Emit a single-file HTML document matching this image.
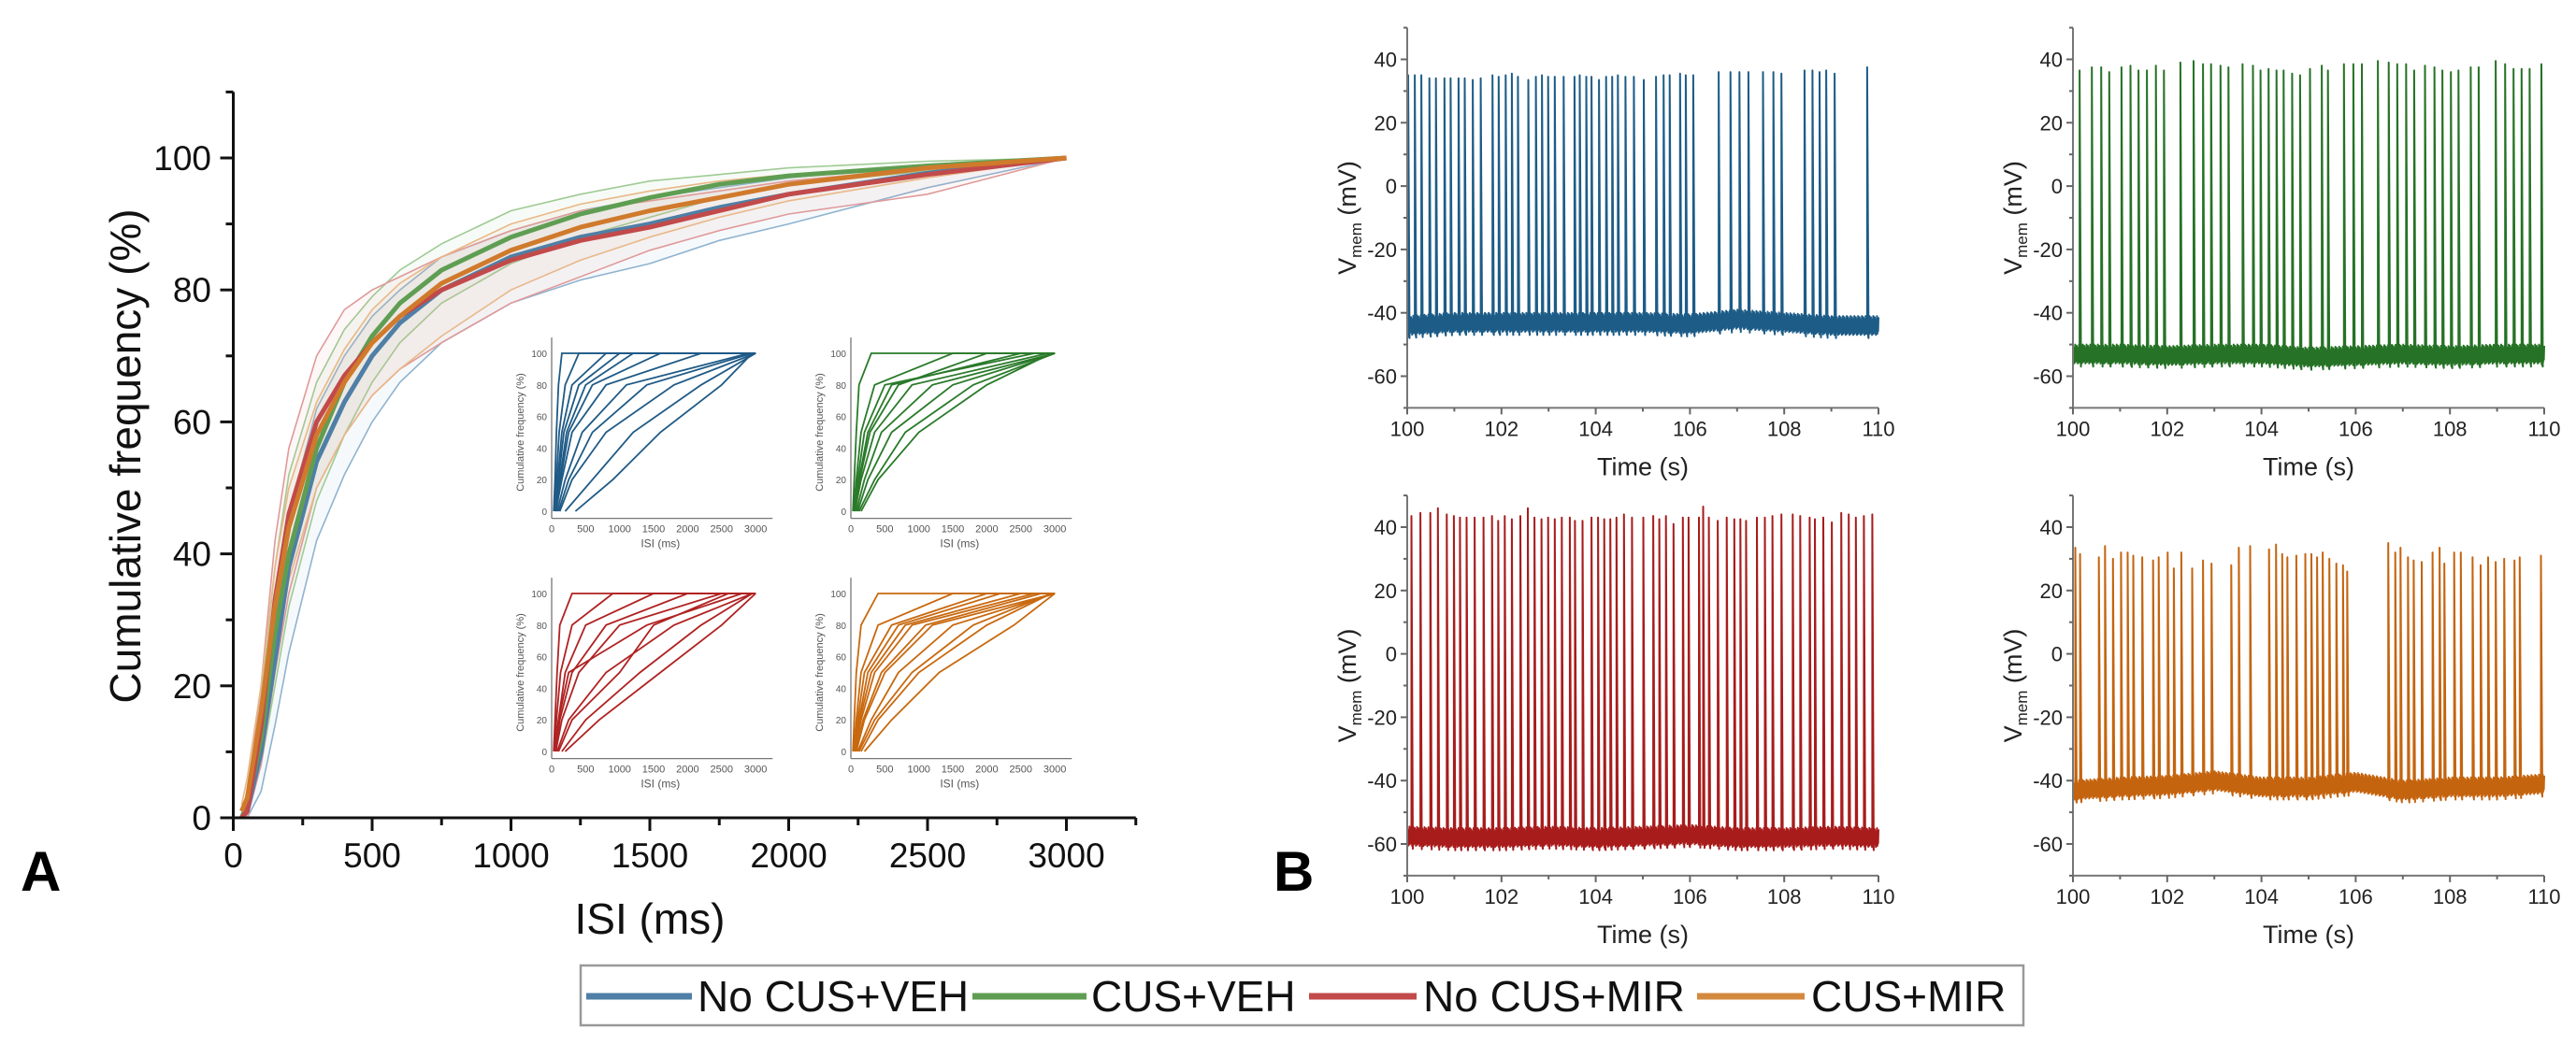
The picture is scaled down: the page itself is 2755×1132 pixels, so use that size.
<!DOCTYPE html>
<html><head><meta charset="utf-8">
<style>
html,body{margin:0;padding:0;background:#fff;}
svg{display:block;font-family:"Liberation Sans",Arial,sans-serif;}
</style></head>
<body>
<svg id="fig" width="2755" height="1132" viewBox="0 0 2755 1132" xmlns="http://www.w3.org/2000/svg">
  <rect x="0" y="0" width="2755" height="1132" fill="#fff"/>
  <text x="22" y="953" font-size="60" font-weight="bold" fill="#000">A</text>
  <text x="1362" y="953" font-size="60" font-weight="bold" fill="#000">B</text>
  <text x="695" y="999" font-size="46" text-anchor="middle" fill="#111">ISI (ms)</text>
  <text transform="translate(150,488) rotate(-90)" font-size="46" text-anchor="middle" fill="#111">Cumulative frequency (%)</text>
  <g>
    <rect x="621" y="1033" width="1543" height="64" fill="#fff" stroke="#999" stroke-width="2.5"/>
    <line x1="627" y1="1066" x2="740" y2="1066" stroke="#4f7fa6" stroke-width="7"/>
    <text x="746" y="1082" font-size="46" fill="#111">No CUS+VEH</text>
    <line x1="1040" y1="1066" x2="1162" y2="1066" stroke="#5f9e52" stroke-width="7"/>
    <text x="1167" y="1082" font-size="46" fill="#111">CUS+VEH</text>
    <line x1="1400" y1="1066" x2="1515" y2="1066" stroke="#c24a4a" stroke-width="7"/>
    <text x="1522" y="1082" font-size="46" fill="#111">No CUS+MIR</text>
    <line x1="1815" y1="1066" x2="1930" y2="1066" stroke="#d48a3e" stroke-width="7"/>
    <text x="1937" y="1082" font-size="46" fill="#111">CUS+MIR</text>
  </g>
</svg>
<script>
// ---------- Main cumulative chart data ----------
const isiGrid = [30,50,100,150,200,300,400,500,600,750,1000,1250,1500,1750,2000,2500,3000];
const blueMean   = [0,1,10,24,38,54,63,70,75,80,85,88,90,92.5,94.5,97.7,100];
const greenMean  = [0,2,12,28,40,56,66,73,78,83,88,91.5,94,96,97.3,98.8,100];
const redMean    = [0,1,14,33,46,60,67,72,76,80,84.5,87.5,89.5,92,94.5,97.5,100];
const orangeMean = [1,3,16,32,44,58,66,72,76,81,86,89.5,92,94,96,98.5,100];
const blueUp   = [1,3,16,33,46,62,70,76,80,85,89,92,94,95.5,97,99,100];
const blueLo   = [0,0,4,14,25,42,52,60,66,72,78,81.5,84,87.5,90,95.5,100];
const greenUp  = [1,4,18,38,52,66,74,79,83,87,92,94.5,96.5,97.5,98.5,99.5,100];
const greenLo  = [0,1,8,20,32,48,58,66,72,78,84,88,91,94,96,98,100];
const redUp    = [1,3,20,42,56,70,77,80,82,85,89,92,93.5,95,96.5,98.5,100];
const redLo    = [0,0,8,22,34,50,58,64,68,72,78,82,86,89,91.5,94.5,100];
const orangeUp = [2,6,20,38,50,63,71,77,81,85,90,93,95,96.5,97.5,99,100];
const orangeLo = [0,1,10,24,36,50,58,64,68,73,80,84.5,88,91,93.5,97,100];
const mainXTicks = [0,500,1000,1500,2000,2500,3000];
const mainYTicks = [0,20,40,60,80,100];

// ---------- Inset data: ISI (ms) at cumulative percentiles ----------
const insetPct = [0,20,50,80,100];
const insetBlue = [[30,50,70,100,150],[40,70,110,200,400],[50,100,180,400,1000],[60,130,250,600,1600],[60,150,300,800,2200],[80,200,450,1100,2900],[100,250,600,1400,2950],[120,300,800,1800,3000],[200,600,1200,2200,3000],[350,900,1600,2500,2950],[60,120,220,500,1200],[50,90,150,300,800]];
const insetGreen = [[30,50,80,120,300],[40,80,150,350,1500],[50,120,250,600,2500],[60,150,350,900,2900],[80,200,450,1200,3000],[100,250,600,1500,3000],[120,350,800,1800,3000],[60,130,280,700,2000],[40,100,200,500,2700],[150,400,1000,2000,2950]];
const insetRed = [[30,50,80,120,300],[40,70,130,300,900],[50,100,200,500,1500],[60,150,400,1000,2500],[80,250,800,1800,2950],[100,300,1000,1500,2600],[150,500,1300,2200,2950],[200,700,1600,2500,3000],[60,120,300,800,2000],[50,100,250,1400,2800]];
const insetOrange = [[30,50,80,150,400],[40,80,150,400,1500],[50,120,250,700,2200],[60,150,350,900,2700],[80,200,500,1200,3000],[100,300,700,1500,3000],[150,400,1000,2000,2950],[200,600,1300,2400,3000],[60,130,300,800,2500],[40,100,200,600,2000],[120,350,900,1800,2950],[70,180,450,1100,2800]];
const insetXTicks = [0,500,1000,1500,2000,2500,3000];
const insetYTicks = [0,20,40,60,80,100];

// ---------- Panel B data (spike times in s, peaks in mV, baseline per second) ----------
const spikesTL = [100.02,100.16,100.30,100.47,100.61,100.79,100.92,101.09,101.22,101.39,101.56,101.81,101.94,102.09,102.22,102.35,102.57,102.73,102.86,102.99,103.13,103.32,103.55,103.66,103.80,103.91,104.07,104.22,104.35,104.47,104.63,104.81,105.02,105.28,105.44,105.57,105.79,105.91,106.07,106.61,106.86,107.05,107.24,107.55,107.77,107.94,108.43,108.60,108.75,108.89,109.07,109.76];
const peaksTL = [35,35,35,34,34,34,34,34,34,33.5,34,35,34.5,35,35.5,34.5,33.5,34.5,35,34.5,34.5,34.5,34.5,35,34.5,34.5,33.5,34.5,34.5,35,34.5,34.5,33.5,34.5,35,35,35.5,35,35,36,36,36,36,36,36,35.5,36.5,36.5,36,36.5,35.5,37.5];
const baseTL = [-44,-43,-43,-43,-43,-43,-43.5,-42,-43,-44,-44];
const spikesTR = [100.14,100.40,100.60,100.77,101.03,101.22,101.39,101.57,101.76,101.93,102.28,102.56,102.76,102.93,103.13,103.30,103.60,103.82,103.98,104.15,104.32,104.47,104.65,104.82,105.03,105.28,105.41,105.75,105.95,106.13,106.47,106.70,106.88,107.07,107.24,107.47,107.67,107.84,108.02,108.18,108.44,108.61,108.97,109.17,109.35,109.52,109.69,109.94];
const peaksTR = [36.5,37.5,37.5,36,37.5,38,36.5,36.5,38,36.5,39,39.5,38.5,38.5,38,37.5,38.5,38,36.5,37,36.5,36.5,35.5,35,37,38,36.5,38.5,38.5,38.5,39.5,39,38.5,38.5,36.5,38,37.5,36.5,36,36.5,37.5,37.5,39.5,38.5,37,37,37,38.5];
const baseTR = [-53,-53,-53.5,-53,-53,-54,-53.5,-53,-53.5,-53,-53];
const spikesBL = [100.09,100.28,100.49,100.65,100.84,100.99,101.12,101.26,101.43,101.62,101.80,101.93,102.07,102.22,102.40,102.56,102.70,102.85,102.99,103.13,103.28,103.45,103.56,103.72,103.91,104.05,104.18,104.31,104.44,104.60,104.77,105.01,105.22,105.35,105.49,105.65,105.85,105.97,106.19,106.28,106.40,106.59,106.78,106.94,107.07,107.19,107.42,107.59,107.75,107.94,108.18,108.34,108.54,108.65,108.83,109.01,109.21,109.37,109.52,109.69,109.87];
const peaksBL = [43.5,44.5,44.5,46,44,43.5,43,43,43,43,43.5,42,43.5,42.5,43.5,46,43,42.5,43,42.5,43,43,42,42,43,43,42.5,42.5,43,44,43,43,43.5,42.5,43.5,41,43,43,43,46.5,43,42,43,42.5,42.5,42,43,43,43.5,44,44,43.5,43,42.5,43,41.5,44.5,44,43,43.5,44];
const baseBL = [-57.5,-58,-58,-57.5,-58,-57.5,-57,-58,-58,-57.5,-58];
const spikesBR = [100.05,100.15,100.55,100.68,100.85,101.02,101.16,101.28,101.47,101.70,101.82,102.01,102.14,102.30,102.53,102.76,102.94,103.36,103.52,103.76,104.16,104.31,104.44,104.55,104.74,104.93,105.06,105.18,105.30,105.44,105.59,105.73,105.82,106.69,106.84,106.95,107.11,107.23,107.40,107.63,107.78,107.88,108.09,108.23,108.48,108.65,108.81,108.97,109.15,109.37,109.48,109.93];
const peaksBR = [33.5,31.5,30.5,34,30,32,32,31,30.5,29.5,30.5,32,27,32,27,29.5,28.5,28,33.5,34,33,34.5,31.5,30.5,31,31.5,31.5,30.5,32,30,28.5,28,26,35,32,33.5,30.5,29.5,29,32,33.5,28.5,32,32,30.5,28,30.5,29,30,29.5,30.5,31];
const baseBR = [-43,-42,-41.5,-40,-42,-42,-40.5,-43,-42,-42,-41];
const bXTicks = [100,102,104,106,108,110];
const bYTicks = [-60,-40,-20,0,20,40];

const NS = 'http://www.w3.org/2000/svg';
const svg = document.getElementById('fig');
function mk(tag, attrs, parent){
  const el = document.createElementNS(NS, tag);
  for (const k in attrs) el.setAttribute(k, attrs[k]);
  (parent||svg).appendChild(el);
  return el;
}

// ---------- Main chart axes ----------
const mx = v => 249.5 + v * 0.2970;
const my = v => 875 - v * 7.06;
const gMain = mk('g', {});



function bandPath(up, lo){
  let d = '';
  isiGrid.forEach((x,i)=>{ d += (i?'L':'M') + mx(x).toFixed(1) + ',' + my(up[i]).toFixed(1); });
  for (let i=isiGrid.length-1;i>=0;i--) d += 'L' + mx(isiGrid[i]).toFixed(1) + ',' + my(lo[i]).toFixed(1);
  return d + 'Z';
}
function linePath(vals){
  let d = '';
  isiGrid.forEach((x,i)=>{ d += (i?'L':'M') + mx(x).toFixed(1) + ',' + my(vals[i]).toFixed(1); });
  return d;
}
const groups = [
  {key:'no-cus-veh', mean:blueMean, up:blueUp, lo:blueLo, c:'#4f7fa6', lc:'#8fb3cf'},
  {key:'cus-veh', mean:greenMean, up:greenUp, lo:greenLo, c:'#5f9e52', lc:'#9fcb94'},
  {key:'no-cus-mir', mean:redMean, up:redUp, lo:redLo, c:'#c24a4a', lc:'#e09a9a'},
  {key:'cus-mir', mean:orangeMean, up:orangeUp, lo:orangeLo, c:'#d07a2c', lc:'#e8b888'}
];
groups.forEach(g=>{
  const b = mk('path', {d:bandPath(g.up,g.lo), fill:g.lc, 'fill-opacity':0.08, stroke:'none'}, gMain);
  
  
  const u = mk('path', {d:linePath(g.up), fill:'none', stroke:g.lc, 'stroke-width':1.6}, gMain);
  
  
  const l = mk('path', {d:linePath(g.lo), fill:'none', stroke:g.lc, 'stroke-width':1.6}, gMain);
  
  
});
groups.forEach(g=>{
  const m = mk('path', {d:linePath(g.mean), fill:'none', stroke:g.c, 'stroke-width':5, 'stroke-linejoin':'round'}, gMain);
  
  
});
// axes
const ax = mk('line', {x1:mx(0), y1:my(0), x2:mx(3250), y2:my(0), stroke:'#111', 'stroke-width':3}, gMain);


const ay = mk('line', {x1:mx(0), y1:my(0)+2, x2:mx(0), y2:my(110), stroke:'#111', 'stroke-width':3}, gMain);


for (let v=0; v<=3250; v+=250){
  const major = v % 500 === 0;
  const t = mk('line', {x1:mx(v), y1:my(0), x2:mx(v), y2:my(0)+(major?14:8), stroke:'#111', 'stroke-width':3}, gMain);
  
  
}
mainXTicks.forEach(v=>{
  const t = mk('text', {x:mx(v), y:928, 'font-size':37, 'text-anchor':'middle', fill:'#111'}, gMain);
  t.textContent = String(v);
  
  
});
for (let v=0; v<=110; v+=10){
  const major = v % 20 === 0;
  const t = mk('line', {x1:mx(0), y1:my(v), x2:mx(0)-(major?14:8), y2:my(v), stroke:'#111', 'stroke-width':3}, gMain);
  
  
}
mainYTicks.forEach(v=>{
  const t = mk('text', {x:226, y:my(v)+13, 'font-size':37, 'text-anchor':'end', fill:'#111'}, gMain);
  t.textContent = String(v);
  
  
});

// ---------- Insets ----------
const insets = [
  {key:'no-cus-veh', data:insetBlue, c:'#1f5a86', x0:590, y0:547, y100:378},
  {key:'cus-veh', data:insetGreen, c:'#2a7a2a', x0:910, y0:547, y100:378},
  {key:'no-cus-mir', data:insetRed, c:'#b02222', x0:590, y0:804, y100:635},
  {key:'cus-mir', data:insetOrange, c:'#c8690f', x0:910, y0:804, y100:635}
];
insets.forEach(ins=>{
  const g = mk('g', {});
  
  
  const ix = v => ins.x0 + v * 0.0727;
  const iy = v => ins.y0 - v * (ins.y0 - ins.y100) / 100;
  ins.data.forEach(curve=>{
    let d = '';
    curve.forEach((x,i)=>{ d += (i?'L':'M') + ix(x).toFixed(1) + ',' + iy(insetPct[i]).toFixed(1); });
    d += 'L' + ix(3000).toFixed(1) + ',' + iy(100).toFixed(1);
    const p = mk('path', {d:d, fill:'none', stroke:ins.c, 'stroke-width':1.8}, g);
    
    
  });
  const a1 = mk('line', {x1:ins.x0, y1:iy(-4.5), x2:ix(3250), y2:iy(-4.5), stroke:'#777', 'stroke-width':1.3}, g);
  
  
  const a2 = mk('line', {x1:ins.x0, y1:iy(-4.5), x2:ins.x0, y2:iy(110), stroke:'#777', 'stroke-width':1.3}, g);
  
  
  insetXTicks.forEach(v=>{
    const t = mk('text', {x:ix(v), y:iy(-4.5)+15, 'font-size':11, 'text-anchor':'middle', fill:'#555'}, g);
    t.textContent = String(v);
    
    
  });
  insetYTicks.forEach(v=>{
    const t = mk('text', {x:ins.x0-5, y:iy(v)+4, 'font-size':10, 'text-anchor':'end', fill:'#555'}, g);
    t.textContent = String(v);
    
    
  });
  const xt = mk('text', {x:ix(1600), y:iy(-4.5)+31, 'font-size':12, 'text-anchor':'middle', fill:'#555'}, g);
  xt.textContent = 'ISI (ms)';
  
  
  const yt = mk('text', {transform:'translate(' + (ins.x0-30) + ',' + iy(50) + ') rotate(-90)', 'font-size':11, 'text-anchor':'middle', fill:'#555'}, g);
  yt.textContent = 'Cumulative frequency (%)';
  
  
});

// ---------- Panel B ----------
const panels = [
  {key:'no-cus-veh', x0:1505, y40:63.5, spikes:spikesTL, peaks:peaksTL, base:baseTL, c:'#1d5c87'},
  {key:'cus-veh', x0:2217, y40:63.5, spikes:spikesTR, peaks:peaksTR, base:baseTR, c:'#267226'},
  {key:'no-cus-mir', x0:1505, y40:564, spikes:spikesBL, peaks:peaksBL, base:baseBL, c:'#a81c1c'},
  {key:'cus-mir', x0:2217, y40:564, spikes:spikesBR, peaks:peaksBR, base:baseBR, c:'#c4640f'}
];
const zig = [2.6,-2.2,1.4,-3.0,2.0,-1.2,3.0,-2.6,0.8,-1.8];
panels.forEach(P=>{
  const g = mk('g', {});
  
  
  const px = t => P.x0 + (t - 100) * 50.4;
  const py = v => P.y40 + (40 - v) * 3.39;
  const baseAt = t => { const s = Math.min(9.999, Math.max(0, t-100)); const i = Math.floor(s); const f = s - i; return P.base[i]*(1-f) + P.base[i+1]*f; };
  // trace
  let d = 'M' + px(100).toFixed(1) + ',' + py(baseAt(100)).toFixed(1);
  let si = 0; let k = 0;
  for (let t = 100; t <= 110.0001; t += 0.008){
    while (si < P.spikes.length && P.spikes[si] <= t){
      const ts = P.spikes[si];
      d += 'L' + px(ts).toFixed(1) + ',' + py(baseAt(ts)+4).toFixed(1);
      d += 'L' + px(ts).toFixed(1) + ',' + py(P.peaks[si]).toFixed(1);
      d += 'L' + (px(ts)+1.5).toFixed(1) + ',' + py(baseAt(ts)-4).toFixed(1);
      si++;
    }
    d += 'L' + px(t).toFixed(1) + ',' + py(baseAt(t) + zig[k % zig.length]).toFixed(1);
    k++;
  }
  const tr = mk('path', {d:d, fill:'none', stroke:P.c, 'stroke-width':2, 'stroke-linejoin':'round'}, g);
  
  
  // axes
  const xa = mk('line', {x1:px(100), y1:py(-70), x2:px(110), y2:py(-70), stroke:'#777', 'stroke-width':2}, g);
  
  
  const ya = mk('line', {x1:px(100), y1:py(-70), x2:px(100), y2:py(50), stroke:'#777', 'stroke-width':2}, g);
  
  
  for (let t=100; t<=110; t+=1){
    const major = (t % 2 === 0);
    const tk = mk('line', {x1:px(t), y1:py(-70), x2:px(t), y2:py(-70)+(major?7:4), stroke:'#666', 'stroke-width':2}, g);
    
    
  }
  for (let v=-70; v<=50; v+=10){
    const major = (v % 20 === 0);
    const tk = mk('line', {x1:px(100), y1:py(v), x2:px(100)-(major?7:4), y2:py(v), stroke:'#666', 'stroke-width':2}, g);
    
    
  }
  bXTicks.forEach(t=>{
    const tl = mk('text', {x:px(t), y:py(-70)+30, 'font-size':22, 'text-anchor':'middle', fill:'#222'}, g);
    tl.textContent = String(t);
    
    
  });
  bYTicks.forEach(v=>{
    const tl = mk('text', {x:px(100)-11, y:py(v)+8, 'font-size':22, 'text-anchor':'end', fill:'#222'}, g);
    tl.textContent = String(v);
    
    
  });
  const xt = mk('text', {x:px(105), y:py(-70)+72, 'font-size':27, 'text-anchor':'middle', fill:'#222'}, g);
  xt.textContent = 'Time (s)';
  
  
  const yt = mk('text', {transform:'translate(' + (px(100)-55) + ',' + py(-10) + ') rotate(-90)', 'font-size':27, 'text-anchor':'middle', fill:'#222'}, g);
  
  
  const s1 = mk('tspan', {}, yt); s1.textContent = 'V';
  const s2 = mk('tspan', {'font-size':17, dy:6}, yt); s2.textContent = 'mem';
  const s3 = mk('tspan', {dy:-6}, yt); s3.textContent = ' (mV)';
});
</script>
</body></html>
